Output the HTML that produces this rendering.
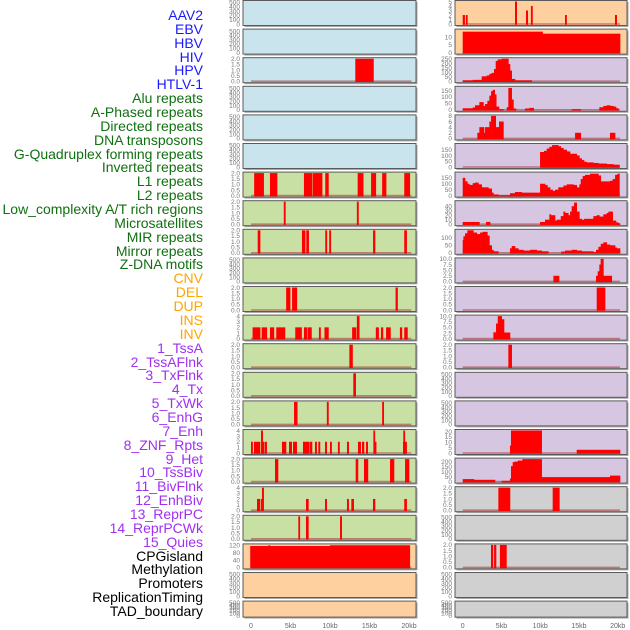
<!DOCTYPE html>
<html><head><meta charset="utf-8">
<style>
html,body{margin:0;padding:0;background:#fff;}
#wrap{position:relative;width:630px;height:630px;overflow:hidden;}
.lab{position:absolute;right:427px;font:14px "Liberation Sans",sans-serif;white-space:nowrap;line-height:14px;}
svg{position:absolute;left:0;top:0;}
</style></head>
<body>
<div id="wrap">
<svg id="chart" width="630" height="630"></svg>
</div>
<script>
// ---- labels ----
const labelNames = ["AAV2","EBV","HBV","HIV","HPV","HTLV-1","Alu repeats","A-Phased repeats","Directed repeats","DNA transposons","G-Quadruplex forming repeats","Inverted repeats","L1 repeats","L2 repeats","Low_complexity A/T rich regions","Microsatellites","MIR repeats","Mirror repeats","Z-DNA motifs","CNV","DEL","DUP","INS","INV","1_TssA","2_TssAFlnk","3_TxFlnk","4_Tx","5_TxWk","6_EnhG","7_Enh","8_ZNF_Rpts","9_Het","10_TssBiv","11_BivFlnk","12_EnhBiv","13_ReprPC","14_ReprPCWk","15_Quies","CPGisland","Methylation","Promoters","ReplicationTiming","TAD_boundary"];
const labelGroups = [6,13,5,15,5];
const groupColors = ["#1a1aff","#107010","#ffa500","#a030f0","#000000"];

// ---- tick sets ----
const tickEmpty = [0,100,200,300,400,500];
const tick2 = [0,0.5,1,1.5,2];
const tick4 = [0,1,2,3,4];
const tick5 = [0,1,2,3,4,5];
const tick10 = [0,2.5,5,7.5,10];
const tick14 = [0,5,10];
const tick250 = [0,50,100,150,200,250];
const tick150 = [0,50,100,150];
const tick100 = [0,50,100];
const tick40 = [0,10,20,30,40];
const tick8 = [0,2,4,6,8];
const tick20 = [0,5,10,15,20];
const tick200 = [0,50,100,150,200];
const tick120 = [0,40,80,120];
const xTickKb = [0,5,10,15,20];
const xTickLabels = ["0","5kb","10kb","15kb","20kb"];

// ---- left column data (start kb, end kb, value) ----
const L2 = [[13.2,15.5,2]];
const L6 = [[0.4,1.6,2],[2.4,3.3,2],[6.7,7.7,2],[7.8,9.0,2],[9.4,9.8,2],[13.5,14.2,2],[15.2,15.8,2],[16.6,17.1,2],[19.4,20.1,2]];
const L7 = [[4.15,4.35,2],[13.4,13.6,2]];
const L8 = [[0.85,1.15,2],[6.45,6.85,2],[7.0,7.3,2],[9.4,9.6,2],[9.9,10.1,2],[15.45,15.7,2],[19.4,19.7,2]];
const L10 = [[4.45,4.95,2],[5.2,5.8,2],[18.3,18.55,2]];
const L11 = [[0.2,1.15,2],[1.35,2.0,2],[2.4,2.9,2],[3.2,4.3,2],[5.6,6.4,2],[6.7,7.05,2],[7.15,7.65,2],[8.6,8.8,2],[9.3,9.8,2],[12.8,13.3,2],[13.4,13.7,4],[15.8,16.15,2],[16.45,16.7,2],[17.1,17.65,2],[18.85,19.1,2],[19.4,19.8,2]];
const L12 = [[12.45,12.85,2]];
const L13 = [[12.95,13.25,2]];
const L14 = [[5.45,5.85,2],[9.6,9.8,2],[16.6,16.8,2]];
const L15 = [[0,0.2,2],[0.38,1.14,2],[1.27,1.48,4],[1.48,1.65,2],[1.77,1.98,2],[3.92,4.43,2],[4.81,5.15,2],[5.32,5.78,2],[6.58,7.38,2],[7.47,7.72,2],[8.1,8.31,2],[8.52,8.73,2],[9.37,9.58,2],[10.0,10.2,2],[11.0,11.2,2],[12.15,12.36,2],[13.54,13.88,2],[14.05,14.3,2],[14.56,14.77,2],[15.49,15.65,4],[15.65,15.82,2],[19.24,19.28,2],[19.28,19.4,4],[19.4,19.7,2]];
const L16 = [[3.04,3.42,2],[13.25,13.54,2],[14.3,14.8,2],[17.6,18.1,2],[19.5,20.0,2]];
const L17 = [[0.76,1.14,2],[1.27,1.39,2],[1.39,1.6,4],[6.96,7.26,2],[9.37,9.58,2],[12.15,12.36,2],[12.7,13.0,2],[15.44,15.7,2],[19.4,19.7,2]];
const L18 = [[5.99,6.16,2],[6.96,7.26,2],[11.27,11.48,2]];
const L19 = [[-0.1,2.2,116],[2.2,2.4,120],[2.4,10,116],[10,20.1,120]];

// ---- right column data ----
const R0 = [[0,0.25,2],[0.4,0.6,2],[6.75,6.97,5],[8.17,8.39,3],[8.8,9.0,4],[13.2,13.4,2],[19.65,19.87,2]];
const R1 = [[0,10.3,13.5],[10.3,20.3,12.2]];
const R2edges = [0,1.29,2.45,3.1,3.44,3.74,4.04,4.26,4.52,5.03,5.89,6.1,6.32,6.75,8.9];
const R2vals = [10,15,54,64,82,93,135,225,243,250,190,118,25,10];
const R3edges = [0,1.29,1.59,2.15,2.67,2.88,3.18,3.44,3.66,3.87,4.13,4.3,4.69,5.25,5.68,5.89,6.32,6.54,6.88,8.04,8.6,9.16,14.06,15.23,17.63,18.15,18.58,19.0,19.44,19.78,20.09];
const R3vals = [12,18,35,60,30,45,70,110,145,155,120,25,5,0,20,170,80,10,0,10,15,0,5,0,20,30,35,30,25,12];
const R4 = [[1.89,2.15,2],[2.15,2.75,4],[2.75,2.88,2],[2.88,3.44,4],[3.44,3.66,6],[3.66,4.26,8],[4.26,4.69,4],[4.69,5.25,6],[14.5,15.23,2],[19.0,19.66,2]];
const R5edges = [9.98,10.49,10.84,11.18,11.53,12.34,12.65,12.99,13.42,13.85,14.71,15.05,15.35,15.66,16.0,16.86,17.51,18.58,19.44,20.22];
const R5vals = [130,140,160,175,190,180,165,150,135,115,100,75,60,45,40,35,30,25,20];
const R6edges = [0,0.3,0.6,0.86,1.29,1.59,2.02,2.45,3.31,3.74,3.96,4.6,6.1,6.75,7.61,9.98,10.62,10.92,11.27,11.61,11.91,12.34,12.99,13.42,14.28,14.71,15.05,15.23,15.48,15.78,16.43,17.51,17.81,19.0,19.35,19.66,19.96,20.22];
const R6vals = [150,120,100,90,105,110,95,70,60,25,10,3,20,30,25,100,90,70,50,40,50,70,85,95,90,70,95,140,165,175,185,170,120,125,140,175,185];
const R7edges = [0,2.15,3.01,3.53,9.98,10.62,11.18,11.35,11.91,12.13,12.65,12.99,13.2,13.63,13.85,14.06,14.37,14.71,15.05,15.35,15.66,16.86,17.29,17.63,18.15,18.58,18.8,19.35,19.78,20.09,20.3];
const R7vals = [5,0,5,0,5,10,22,20,8,10,18,28,25,20,28,40,48,28,12,10,12,18,20,17,22,25,28,8,4,2];
const R8edges = [0,0.09,0.3,0.6,1.38,1.81,2.24,2.58,3.18,3.44,3.74,3.96,4.6,6.1,6.32,6.75,7.18,7.83,8.69,9.55,10.19,11.05,12.69,13.2,14.06,14.71,15.35,16.86,17.2,17.51,17.81,18.15,18.58,19.0,19.66,19.87,20.3];
const R8vals = [85,110,130,150,135,125,135,140,115,50,20,10,0,30,45,30,20,15,20,15,10,0,8,15,20,15,10,5,20,40,60,70,55,50,35,30];
const R9 = [[11.7,12.43,2.5],[17.2,17.42,2.5],[17.42,17.63,4.5],[17.63,17.8,7.5],[17.8,18.15,10],[18.15,19.23,2.5]];
const R10 = [[17.29,18.37,2]];
const R11 = [[3.96,4.3,2.8],[4.3,4.52,6.7],[4.52,5.03,10],[5.03,5.33,8.6],[5.33,6.1,2.7]];
const R12 = [[5.89,6.32,2]];
const R15 = [[6.1,6.23,7],[6.23,10.19,21],[14.71,20.3,3]];
const R16edges = [0,1.46,4.17,5.03,6.1,6.23,6.45,6.67,7.1,7.7,10.19,19.0,20.3];
const R16vals = [25,18,0,8,30,155,195,200,210,225,45,60];
const R17 = [[4.6,6.1,2],[11.61,12.47,2]];
const R19 = [[3.65,3.9,2],[4.05,4.3,2],[4.8,5.64,2]];

function hist(edges, vals){ const out=[]; for(let i=0;i<vals.length;i++) out.push([edges[i],edges[i+1],vals[i]]); return out; }

const BG = {blue:"#c9e4ec",green:"#c9e0a5",orange:"#ffd09f",purple:"#d6c6e1",gray:"#d0d0d0"};

// col, row, background, ymax, ticks, tick decimals, bars
const panels = [
 [0,0,"blue",520,tickEmpty,0,null],[0,1,"blue",520,tickEmpty,0,null],[0,2,"blue",2,tick2,1,L2],
 [0,3,"blue",520,tickEmpty,0,null],[0,4,"blue",520,tickEmpty,0,null],[0,5,"blue",520,tickEmpty,0,null],
 [0,6,"green",2,tick2,1,L6],[0,7,"green",2,tick2,1,L7],[0,8,"green",2,tick2,1,L8],
 [0,9,"green",520,tickEmpty,0,null],[0,10,"green",2,tick2,1,L10],[0,11,"green",4,tick4,0,L11],
 [0,12,"green",2,tick2,1,L12],[0,13,"green",2,tick2,1,L13],[0,14,"green",2,tick2,1,L14],
 [0,15,"green",4,tick4,0,L15],[0,16,"green",2,tick2,1,L16],[0,17,"green",4,tick4,0,L17],
 [0,18,"green",2,tick2,1,L18],[0,19,"orange",122,tick120,0,L19],[0,20,"orange",520,tickEmpty,0,null],
 [0,21,"orange",520,tickEmpty,0,null],
 [1,0,"orange",5,tick5,0,R0],[1,1,"orange",14.5,tick14,0,R1],[1,2,"purple",250,tick250,0,hist(R2edges,R2vals)],
 [1,3,"purple",175,tick150,0,hist(R3edges,R3vals)],[1,4,"purple",8,tick8,0,R4],
 [1,5,"purple",195,tick150,0,hist(R5edges,R5vals)],[1,6,"purple",190,tick150,0,hist(R6edges,R6vals)],
 [1,7,"purple",50,tick40,0,hist(R7edges,R7vals)],[1,8,"purple",150,tick100,0,hist(R8edges,R8vals)],
 [1,9,"purple",10,tick10,1,R9],[1,10,"purple",2,tick2,1,R10],[1,11,"purple",10,tick10,1,R11],
 [1,12,"purple",2,tick2,1,R12],[1,13,"purple",520,tickEmpty,0,null],[1,14,"purple",520,tickEmpty,0,null],
 [1,15,"purple",21,tick20,0,R15],[1,16,"purple",225,tick200,0,hist(R16edges,R16vals)],
 [1,17,"gray",2,tick2,1,R17],[1,18,"gray",520,tickEmpty,0,null],[1,19,"gray",2,tick2,1,R19],
 [1,20,"gray",520,tickEmpty,0,null],[1,21,"gray",520,tickEmpty,0,null]
];

const NS="http://www.w3.org/2000/svg";
const svg=document.getElementById('chart');
function mk(tag,attrs){const e=document.createElementNS(NS,tag);for(const k in attrs)e.setAttribute(k,attrs[k]);return e;}
const colGeom=[{px:243,pw:173,x0:251,s:7.9},{px:455,pw:172,x0:462.7,s:7.75}];
function xScale(c,kb){return colGeom[c].x0+kb*colGeom[c].s;}
function rowTop(r){return 0.5+28.6*r;}
function rowH(r){return r===21?16:25;}

panels.forEach(p=>{
  const [c,r,bg,ymax,ticks,dec,bars]=p;
  const g=colGeom[c]; const top=rowTop(r), h=rowH(r);
  const y0=top+h-1.5, yt=top+1;
  const yS=v=>y0-(v/ymax)*(y0-yt);
  const grp=mk('g',{});
  
  
  const sh=mk('rect',{x:g.px+1.5,y:top+1.5,width:g.pw,height:h,fill:'#a8a8a8'});
  grp.appendChild(sh);
  const bgr=mk('rect',{x:g.px,y:top,width:g.pw,height:h,fill:BG[bg],stroke:'#5a5a5a','stroke-width':1});
  
  
  grp.appendChild(bgr);
  if(bars){
    const bl=mk('line',{x1:xScale(c,0),x2:xScale(c,20.3),y1:y0,y2:y0,stroke:'rgba(170,50,50,0.55)','stroke-width':1.6});
    
    
    grp.appendChild(bl);
    bars.forEach(b=>{
      if(b[2]<=0) return;
      let x1=xScale(c,b[0]),x2=xScale(c,b[1]); if(x2-x1<1.5) x2=x1+1.5;
      const y=yS(b[2]);
      const rc=mk('rect',{x:x1,y:y,width:x2-x1+0.3,height:y0-y+0.8,fill:'#ff0000'});
      
      
      grp.appendChild(rc);
    });
  }
  ticks.forEach(t=>{
    const tx=mk('text',{x:g.px-3,y:yS(t)+2.3,'font-size':6.5,'text-anchor':'end',fill:'#777','font-family':'Liberation Sans, sans-serif'});
    tx.textContent=t.toFixed(dec);
    
    
    grp.appendChild(tx);
  });
  svg.appendChild(grp);
});

// x axes
[0,1].forEach(c=>{
  xTickKb.forEach((k,i)=>{
    const tx=mk('text',{x:xScale(c,k),y:628,'font-size':7,'text-anchor':'middle',fill:'#666','font-family':'Liberation Sans, sans-serif'});
    tx.textContent=xTickLabels[i];
    
    
    svg.appendChild(tx);
  });
});

// labels
const wrap=document.getElementById('wrap');
let idx=0;
labelGroups.forEach((n,gi)=>{
  for(let k=0;k<n;k++){
    const d=document.createElement('div');
    d.className='lab';
    d.style.top=(15+13.86*idx-7)+'px';
    d.style.color=groupColors[gi];
    d.textContent=labelNames[idx];
    
    
    wrap.appendChild(d);
    idx++;
  }
});
</script>
</body></html>
